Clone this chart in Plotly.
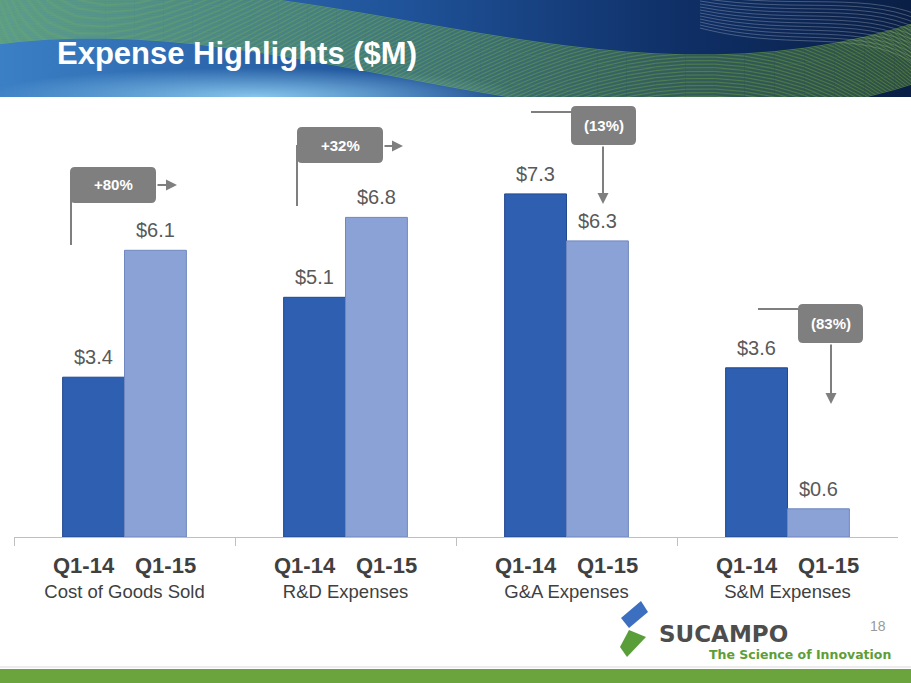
"""Expense highlights slide: Q1-14 vs Q1-15 grouped bars."""

import base64

import plotly.graph_objects as go

W, H = 911, 683

categories = ["Cost of Goods Sold", "R&D Expenses", "G&A Expenses", "S&M Expenses"]
periods = ["Q1-14", "Q1-15"]
q1_14 = [3.4, 5.1, 7.3, 3.6]
q1_15 = [6.1, 6.8, 6.3, 0.6]
change_labels = ["+80%", "+32%", "(13%)", "(83%)"]

BAR_DARK = "#2e5fb0"
BAR_LIGHT = "#8aa2d6"
GRAY = "#7f7f7f"
TEXT = "#404040"
FONT = "Liberation Sans, Arial, sans-serif"


def px(x):
    return x / W


def py(y):
    return 1 - y / H


def header_image():
    """Blue banner with green sweeping lines, as an inline svg."""
    parts = [
        '<svg xmlns="http://www.w3.org/2000/svg" width="911" height="97" viewBox="0 0 911 97">',
        "<defs>",
        '<linearGradient id="g" x1="0" y1="0" x2="1" y2="0">',
        '<stop offset="0" stop-color="#3b7fc4"/><stop offset="0.45" stop-color="#1f5298"/>',
        '<stop offset="0.75" stop-color="#0f2f66"/><stop offset="1" stop-color="#0a1f45"/>',
        "</linearGradient>",
        '<radialGradient id="r" cx="0.28" cy="1" r="0.3">',
        '<stop offset="0" stop-color="#8ccbf0" stop-opacity="0.95"/>',
        '<stop offset="1" stop-color="#8ccbf0" stop-opacity="0"/>',
        "</radialGradient>",
        "</defs>",
        '<rect width="911" height="97" fill="url(#g)"/>',
        '<rect width="911" height="97" fill="url(#r)"/>',
    ]
    for i in range(12):
        parts.append(
            f'<path d="M 700 {-5 + 3 * i} C 800 {10 + 4 * i}, 870 {-10 + 3 * i}, 930 {20 + 5 * i}" '
            'fill="none" stroke="#ffffff" stroke-opacity="0.35" stroke-width="0.7"/>'
        )
    n = 44
    for i in range(n):
        s = i / (n - 1)
        y0 = 45 * s
        c1 = -60 + 60 * s
        c2 = 130 + 60 * s
        y3 = 20 + 60 * s
        parts.append(
            f'<path d="M -10 {y0:.1f} C 300 {c1:.1f}, 600 {c2:.1f}, 925 {y3:.1f}" '
            'fill="none" stroke="#86c440" stroke-opacity="0.6" stroke-width="0.9"/>'
        )
    parts.append("</svg>")
    svg = "".join(parts)
    return "data:image/svg+xml;base64," + base64.b64encode(svg.encode()).decode()


def poly_path(points):
    return "M " + " L ".join(f"{px(x):.5f},{py(y):.5f}" for x, y in points) + " Z"


def rounded_box(x0, y0, x1, y1, r=5):
    pts = (
        f"M {px(x0 + r):.5f},{py(y0):.5f} L {px(x1 - r):.5f},{py(y0):.5f} "
        f"Q {px(x1):.5f},{py(y0):.5f} {px(x1):.5f},{py(y0 + r):.5f} "
        f"L {px(x1):.5f},{py(y1 - r):.5f} "
        f"Q {px(x1):.5f},{py(y1):.5f} {px(x1 - r):.5f},{py(y1):.5f} "
        f"L {px(x0 + r):.5f},{py(y1):.5f} "
        f"Q {px(x0):.5f},{py(y1):.5f} {px(x0):.5f},{py(y1 - r):.5f} "
        f"L {px(x0):.5f},{py(y0 + r):.5f} "
        f"Q {px(x0):.5f},{py(y0):.5f} {px(x0 + r):.5f},{py(y0):.5f} Z"
    )
    return dict(type="path", xref="paper", yref="paper", path=pts,
                fillcolor=GRAY, line=dict(width=0), layer="above")


def line(x0, y0, x1, y1):
    return dict(type="line", xref="paper", yref="paper",
                x0=px(x0), y0=py(y0), x1=px(x1), y1=py(y1),
                line=dict(color=GRAY, width=2))


def arrow(x0, y0, x1, y1):
    return dict(x=px(x1), y=py(y1), xref="paper", yref="paper",
                ax=x0 - x1, ay=y0 - y1, text="", showarrow=True,
                arrowhead=2, arrowsize=1.1, arrowwidth=2, arrowcolor=GRAY)


def label(x, y, text, size, color, family=FONT, anchor="center"):
    return dict(x=px(x), y=py(y), xref="paper", yref="paper", xanchor=anchor,
                yanchor="middle", showarrow=False, text=text,
                font=dict(size=size, color=color, family=family))


fig = go.Figure()
fig.add_bar(x=categories, y=q1_14, name=periods[0],
            marker=dict(color=BAR_DARK, line=dict(color="#23498e", width=1)))
fig.add_bar(x=categories, y=q1_15, name=periods[1],
            marker=dict(color=BAR_LIGHT, line=dict(color="#6f87bf", width=1)))

bar_px = 62
annotations = []
for cat, a, b in zip(categories, q1_14, q1_15):
    for val, shift in ((a, -bar_px / 2), (b, bar_px / 2)):
        annotations.append(dict(x=cat, y=val, xref="x", yref="y", xshift=shift,
                                yshift=7, xanchor="center", yanchor="bottom",
                                showarrow=False, text=f"${val:.1f}",
                                font=dict(size=20, color="#595959", family=FONT)))
    for per, shift in zip(periods, (-41, 41)):
        annotations.append(dict(x=cat, y=py(565), xref="x", yref="paper",
                                xshift=shift, xanchor="center", yanchor="middle",
                                showarrow=False, text=f"<b>{per}</b>",
                                font=dict(size=22, color=TEXT, family=FONT)))

# change callouts
shapes = []
boxes = [(70, 167, 156, 203), (297, 127, 383, 163), (571, 106, 636, 145), (798, 304, 863, 343)]
for (x0, y0, x1, y1), text in zip(boxes, change_labels):
    shapes.append(rounded_box(x0, y0, x1, y1))
    annotations.append(label((x0 + x1) / 2, (y0 + y1) / 2, f"<b>{text}</b>", 15, "white"))
shapes += [
    line(71, 185, 71, 245),
    line(297, 145, 297, 206),
    line(531, 112, 571, 112),
    line(758, 309, 798, 309),
]
annotations += [
    arrow(156, 185, 177, 185),
    arrow(383, 146, 403, 146),
    arrow(603, 145, 603, 204),
    arrow(831, 343, 831, 404),
]

# title, page number, logo
annotations += [
    label(55, 53, "<b>Expense Highlights ($M)</b>", 31, "white", anchor="left"),
    label(888, 626, "18", 14, "#9a9a9a", anchor="right"),
    label(657, 634, "<b>SUCAMPO</b>", 23, "#4d4d4d",
          family="DejaVu Sans, sans-serif", anchor="left"),
    label(893, 654, "<b>The Science of Innovation</b>", 12.5, "#5e9e38",
          family="DejaVu Sans, sans-serif", anchor="right"),
]
shapes += [
    dict(type="path", xref="paper", yref="paper", line=dict(width=0), fillcolor="#3d6fc0",
         path=poly_path([(621, 618), (641, 601), (648, 612), (629, 628)])),
    dict(type="path", xref="paper", yref="paper", line=dict(width=0), fillcolor="#5a9e3a",
         path=poly_path([(629, 630), (646, 637), (627, 657), (620, 647)])),
    dict(type="rect", xref="paper", yref="paper", x0=0, x1=1, y0=0, y1=py(669),
         fillcolor="#6ba43c", line=dict(width=0)),
    dict(type="line", xref="paper", yref="paper", x0=0, x1=1, y0=py(667), y1=py(667),
         line=dict(color="#d9d9d9", width=1)),
]

fig.update_layout(
    width=W, height=H, autosize=False,
    margin=dict(l=0, r=0, t=0, b=0),
    paper_bgcolor="white", plot_bgcolor="rgba(0,0,0,0)",
    barmode="group", bargap=0.44, bargroupgap=0,
    showlegend=False,
    font=dict(family=FONT),
    annotations=annotations,
    shapes=shapes,
    images=[dict(source=header_image(), xref="paper", yref="paper", x=0, y=1,
                 sizex=1, sizey=97 / H, xanchor="left", yanchor="top",
                 sizing="stretch", layer="below")],
    xaxis=dict(domain=[px(14), px(898)], showline=True, linecolor="#bfbfbf",
               linewidth=1, ticks="outside", tickson="boundaries", ticklen=8,
               tickcolor="#bfbfbf", tickfont=dict(size=18.5, color=TEXT),
               ticklabelstandoff=38, showgrid=False, fixedrange=True),
    yaxis=dict(domain=[py(537), py(114)], range=[0, 9], visible=False,
               showgrid=False, fixedrange=True),
)

fig.write_html("out.html", config={"displayModeBar": False},
               post_script="document.body.style.margin = '0';")
